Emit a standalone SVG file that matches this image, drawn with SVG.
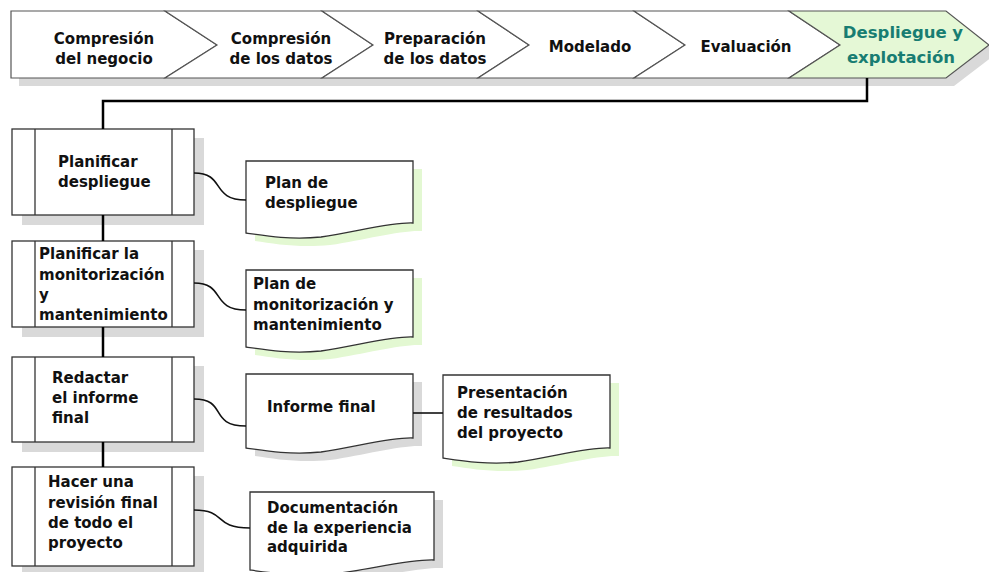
<svg xmlns="http://www.w3.org/2000/svg" width="989" height="572" viewBox="0 0 989 572">
<style>
.bg{fill:#ffffff}
.sh{fill:#d9d9d9}
.gsh{fill:#e3f8d2}
.chev{fill:#ffffff;stroke:#555555;stroke-width:1.2}
.chevg{fill:#e5f8d6;stroke:#555555;stroke-width:1.2}
.box{fill:#ffffff;stroke:#333333;stroke-width:1.3}
.doc{fill:#ffffff;stroke:#333333;stroke-width:1.3}
.t{font-family:"DejaVu Sans","Open Sans",sans-serif;font-weight:bold;font-size:15px;fill:#111111}
.tc{text-anchor:middle}
.tg{font-family:"DejaVu Sans","Open Sans",sans-serif;font-weight:bold;font-size:16.5px;fill:#187d72;text-anchor:middle}
.thick{fill:none;stroke:#000000;stroke-width:2.5}
.thin{fill:none;stroke:#111111;stroke-width:1.6}
</style>
<rect class="bg" x="0" y="0" width="989" height="572"/>

<!-- top bar shadow -->
<polygon class="sh" points="19,19 954,19 997,53 954,86 19,86"/>

<g id="phase1">
<polygon class="chev" points="11,11 165,11 217,45 165,78 11,78"/>
<text class="t tc" x="104" y="44">Compresión</text>
<text class="t tc" x="104" y="64">del negocio</text>
</g>
<g id="phase2">
<polygon class="chev" points="165,11 322,11 373,45 322,78 165,78 217,45"/>
<text class="t tc" x="281" y="44">Compresión</text>
<text class="t tc" x="281" y="64">de los datos</text>
</g>
<g id="phase3">
<polygon class="chev" points="322,11 478,11 529,45 478,78 322,78 373,45"/>
<text class="t tc" x="435" y="44">Preparación</text>
<text class="t tc" x="435" y="64">de los datos</text>
</g>
<g id="phase4">
<polygon class="chev" points="478,11 634,11 685,45 634,78 478,78 529,45"/>
<text class="t tc" x="590" y="52">Modelado</text>
</g>
<g id="phase5">
<polygon class="chev" points="634,11 789,11 840,45 789,78 634,78 685,45"/>
<text class="t tc" x="746" y="52">Evaluación</text>
</g>
<g id="phase6">
<polygon class="chevg" points="789,11 946,11 989,45 946,78 789,78 840,45"/>
<text class="tg" x="903" y="38">Despliegue y</text>
<text class="tg" x="901" y="63">explotación</text>
</g>

<!-- task boxes -->
<g id="task1">
<rect class="sh" x="22" y="138" width="182" height="87"/>
<rect class="box" x="12" y="129" width="182" height="86"/>
<line class="box" x1="35" y1="129" x2="35" y2="215"/>
<line class="box" x1="172" y1="129" x2="172" y2="215"/>
<text class="t" x="58" y="167">Planificar</text>
<text class="t" x="58" y="187">despliegue</text>
</g>
<g id="task2">
<rect class="sh" x="22" y="250" width="182" height="87"/>
<rect class="box" x="12" y="241" width="182" height="86"/>
<line class="box" x1="35" y1="241" x2="35" y2="327"/>
<line class="box" x1="172" y1="241" x2="172" y2="327"/>
<text class="t" x="39" y="259">Planificar la</text>
<text class="t" x="39" y="279.5">monitorización</text>
<text class="t" x="39" y="300">y</text>
<text class="t" x="39" y="320">mantenimiento</text>
</g>
<g id="task3">
<rect class="sh" x="22" y="366" width="182" height="86"/>
<rect class="box" x="12" y="357" width="182" height="85"/>
<line class="box" x1="35" y1="357" x2="35" y2="442"/>
<line class="box" x1="172" y1="357" x2="172" y2="442"/>
<text class="t" x="52" y="383">Redactar</text>
<text class="t" x="52" y="403">el informe</text>
<text class="t" x="52" y="423">final</text>
</g>
<g id="task4">
<rect class="sh" x="22" y="476" width="182" height="100"/>
<rect class="box" x="12" y="467" width="182" height="99"/>
<line class="box" x1="35" y1="467" x2="35" y2="566"/>
<line class="box" x1="172" y1="467" x2="172" y2="566"/>
<text class="t" x="48" y="487">Hacer una</text>
<text class="t" x="48" y="508">revisión final</text>
<text class="t" x="48" y="528">de todo el</text>
<text class="t" x="48" y="548">proyecto</text>
</g>

<!-- documents -->
<g id="doc1">
<path class="gsh" d="M255,169 H422 V231 C400,230 365,240 330,245 C300,248 275,244 255,241 Z"/>
<path class="doc" d="M246,161 H413 V223 C391,222 356,232 321,237 C291,240 266,236 246,233 Z"/>
<text class="t" x="265" y="188">Plan de</text>
<text class="t" x="265" y="208">despliegue</text>
</g>
<g id="doc2">
<path class="gsh" d="M255,278 H422 V345 C400,344 365,354 330,359 C300,362 275,358 255,355 Z"/>
<path class="doc" d="M246,270 H413 V337 C391,336 356,346 321,351 C291,354 266,350 246,347 Z"/>
<text class="t" x="253" y="289">Plan de</text>
<text class="t" x="253" y="310">monitorización y</text>
<text class="t" x="253" y="330">mantenimiento</text>
</g>
<g id="doc3">
<path class="sh" d="M255,382 H422 V446 C400,445 365,455 330,460 C300,463 275,459 255,456 Z"/>
<path class="doc" d="M246,374 H413 V438 C391,437 356,447 321,452 C291,455 266,451 246,448 Z"/>
<text class="t" x="267" y="412">Informe final</text>
</g>
<g id="doc4">
<path class="gsh" d="M452,383 H619 V456 C597,455 562,465 527,470 C497,473 472,469 452,466 Z"/>
<path class="doc" d="M443,375 H610 V448 C588,447 553,457 518,462 C488,465 463,461 443,458 Z"/>
<text class="t" x="457" y="398">Presentación</text>
<text class="t" x="457" y="418">de resultados</text>
<text class="t" x="457" y="438">del proyecto</text>
</g>
<g id="doc5">
<path class="sh" d="M259,500 H443 V568 C419,567 381,577 342,582 C309,585 281,581 259,578 Z"/>
<path class="doc" d="M250,492 H434 V560 C410,559 372,569 333,574 C300,577 272,573 250,570 Z"/>
<text class="t" x="267" y="513">Documentación</text>
<text class="t" x="267" y="533">de la experiencia</text>
<text class="t" x="267" y="552">adquirida</text>
</g>

<!-- connectors -->
<g id="connectors">
<polyline class="thick" points="867,78 867,101 103,101 103,129"/>
<line class="thick" x1="103" y1="215" x2="103" y2="241"/>
<line class="thick" x1="103" y1="327" x2="103" y2="357"/>
<line class="thick" x1="103" y1="442" x2="103" y2="467"/>
<path class="thin" d="M194,173 C226,173 210,200 246,200"/>
<path class="thin" d="M194,283 C226,283 210,310 246,310"/>
<path class="thin" d="M194,399 C228,399 208,426 246,426"/>
<path class="thin" d="M194,510 C228,510 212,528 250,528"/>
<line class="thin" x1="413" y1="413" x2="443" y2="413"/>
</g>
</svg>
